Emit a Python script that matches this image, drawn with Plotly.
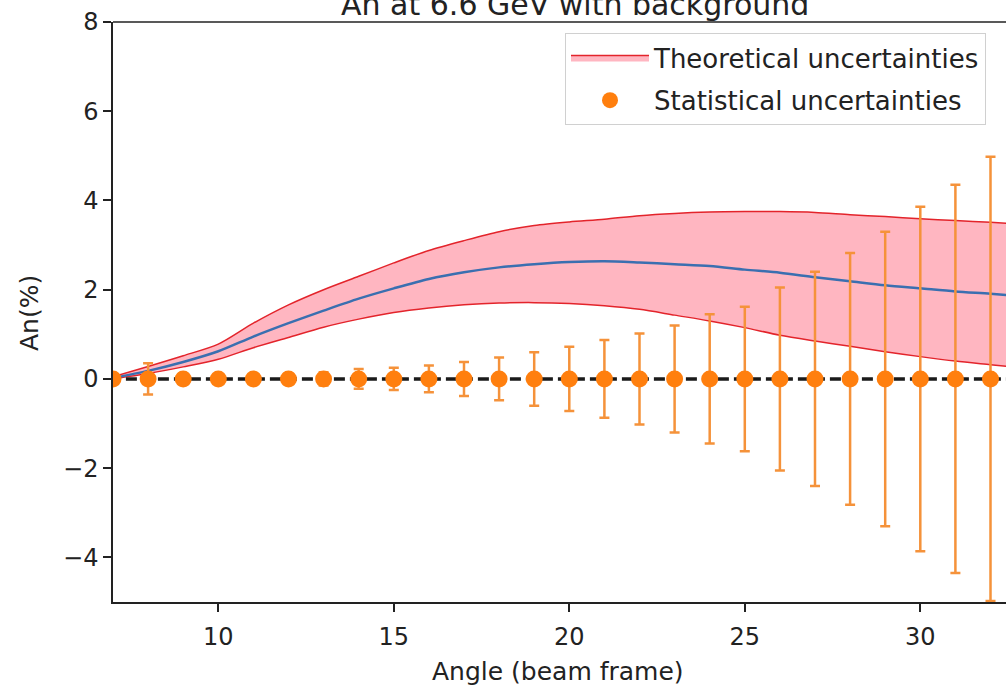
import plotly.graph_objects as go

# Angle grid (beam frame, degrees)
theta_model = [7, 8, 9, 10, 11, 12, 13, 14, 15, 16, 17, 18, 19, 20,
               21, 22, 23, 24, 25, 26, 27, 28, 29, 30, 31, 32, 33]
# Model prediction of An (%) and its theoretical band
an_central = [0.02, 0.18, 0.38, 0.62, 0.95, 1.25, 1.53, 1.80, 2.03, 2.24, 2.39, 2.50, 2.57, 2.62,
              2.64, 2.61, 2.57, 2.53, 2.45, 2.38, 2.28, 2.19, 2.10, 2.03, 1.96, 1.91, 1.85]
an_upper = [0.05, 0.28, 0.52, 0.78, 1.25, 1.66, 2.00, 2.30, 2.60, 2.88, 3.10, 3.30, 3.44, 3.52,
            3.58, 3.66, 3.71, 3.74, 3.75, 3.75, 3.73, 3.68, 3.64, 3.59, 3.55, 3.51, 3.46]
an_lower = [0.00, 0.12, 0.27, 0.44, 0.70, 0.93, 1.16, 1.34, 1.49, 1.59, 1.66, 1.70, 1.71, 1.69,
            1.64, 1.56, 1.43, 1.30, 1.15, 0.98, 0.85, 0.73, 0.61, 0.50, 0.40, 0.32, 0.24]

# Pseudo-data points with statistical uncertainties
theta_data = [7, 8, 9, 10, 11, 12, 13, 14, 15, 16, 17, 18, 19, 20,
              21, 22, 23, 24, 25, 26, 27, 28, 29, 30, 31, 32]
an_data = [0.0] * len(theta_data)
an_stat = [0.08, 0.35, 0.12, 0.10, 0.10, 0.12, 0.15, 0.22, 0.25, 0.30, 0.38, 0.48, 0.60, 0.72,
           0.87, 1.02, 1.20, 1.45, 1.62, 2.05, 2.40, 2.82, 3.30, 3.86, 4.35, 4.98]

zero_x = [6, 34]
zero_y = [0, 0]

FONT = "DejaVu Sans"
W, H = 1006, 687
ML, MR, MT, MB = 113, 0, 22, 85
PX_PER_DEG = 35.1
x_min = 7
x_max = x_min + (W - ML - MR) / PX_PER_DEG
plot_h = H - MT - MB
plot_w = W - ML - MR
INK = "#222222"

fig = go.Figure()

fig.add_trace(go.Scatter(
    x=theta_model, y=an_lower, mode="lines",
    line=dict(color="#e3242b", width=1.5, shape="spline", smoothing=0.8),
    showlegend=False, hoverinfo="skip", legendgroup="theo",
))
fig.add_trace(go.Scatter(
    x=theta_model, y=an_upper, mode="lines",
    line=dict(color="#e3242b", width=1.5, shape="spline", smoothing=0.8),
    fill="tonexty", fillcolor="#ffb6c1",
    name="Theoretical uncertainties", legendgroup="theo",
))
fig.add_trace(go.Scatter(
    x=theta_model, y=an_central, mode="lines",
    line=dict(color="#3a6fb0", width=2.5, shape="spline", smoothing=0.8),
    showlegend=False,
))
fig.add_trace(go.Scatter(
    x=zero_x, y=zero_y, mode="lines",
    line=dict(color="#1a1a1a", width=3.5, dash="11px,5px"),
    showlegend=False, hoverinfo="skip",
))
fig.add_trace(go.Scatter(
    x=theta_data, y=an_data, mode="markers",
    marker=dict(color="#ff7f0e", size=17),
    error_y=dict(type="data", array=an_stat, visible=True,
                 color="#f5923a", thickness=2.5, width=5),
    name="Statistical uncertainties", legendgroup="stat",
))

fig.update_layout(
    width=W, height=H,
    margin=dict(l=ML, r=MR, t=MT, b=MB, pad=0),
    paper_bgcolor="white", plot_bgcolor="white",
    font=dict(family=FONT, size=24, color=INK),
    showlegend=True,
    legend=dict(
        x=(565 - ML) / plot_w, y=1 - (33 - MT) / plot_h,
        xanchor="left", yanchor="top", traceorder="grouped",
        bgcolor="rgba(255,255,255,0.85)", bordercolor="#d0d0d0", borderwidth=1,
        font=dict(family=FONT, size=26, color=INK),
        itemwidth=78, tracegroupgap=6,
    ),
)

fig.update_xaxes(
    range=[x_min, x_max], showgrid=False, zeroline=False,
    showline=True, linecolor=INK, linewidth=1.5, mirror=False,
    ticks="outside", ticklen=8, tickwidth=1.5, tickcolor=INK,
    tickvals=[10, 15, 20, 25, 30], ticktext=["10", "15", "20", "25", "30"],
    tickfont=dict(family=FONT, size=24, color=INK), ticklabelstandoff=4,
)
fig.update_yaxes(
    range=[-5, 8], showgrid=False, zeroline=False,
    showline=True, linecolor=INK, linewidth=1.5, mirror=False,
    ticks="outside", ticklen=8, tickwidth=1.5, tickcolor=INK,
    tickvals=[-4, -2, 0, 2, 4, 6, 8], ticktext=["\u22124", "\u22122", "0", "2", "4", "6", "8"],
    tickfont=dict(family=FONT, size=24, color=INK),
)

# Top frame line
fig.add_shape(type="line", xref="paper", yref="paper", x0=0, x1=1, y0=1, y1=1,
              line=dict(color=INK, width=1.5))

# Title (partly above the visible page edge)
fig.add_annotation(
    text="An at 6.6 GeV with background", xref="paper", yref="paper",
    x=(575 - ML) / plot_w, y=1 + (MT - 4) / plot_h, xanchor="center", yanchor="middle",
    showarrow=False, font=dict(family=FONT, size=30, color=INK),
)
# Axis labels
fig.add_annotation(
    text="Angle (beam frame)", xref="paper", yref="paper",
    x=(558 - ML) / plot_w, y=-(671 - (H - MB)) / plot_h, xanchor="center", yanchor="middle",
    showarrow=False, font=dict(family=FONT, size=25, color=INK),
)
fig.add_annotation(
    text="An(%)", xref="paper", yref="paper",
    x=(30 - ML) / plot_w, y=1 - (313 - MT) / plot_h, xanchor="center", yanchor="middle",
    textangle=-90, showarrow=False, font=dict(family=FONT, size=25, color=INK),
)

fig.write_html("out.html")
